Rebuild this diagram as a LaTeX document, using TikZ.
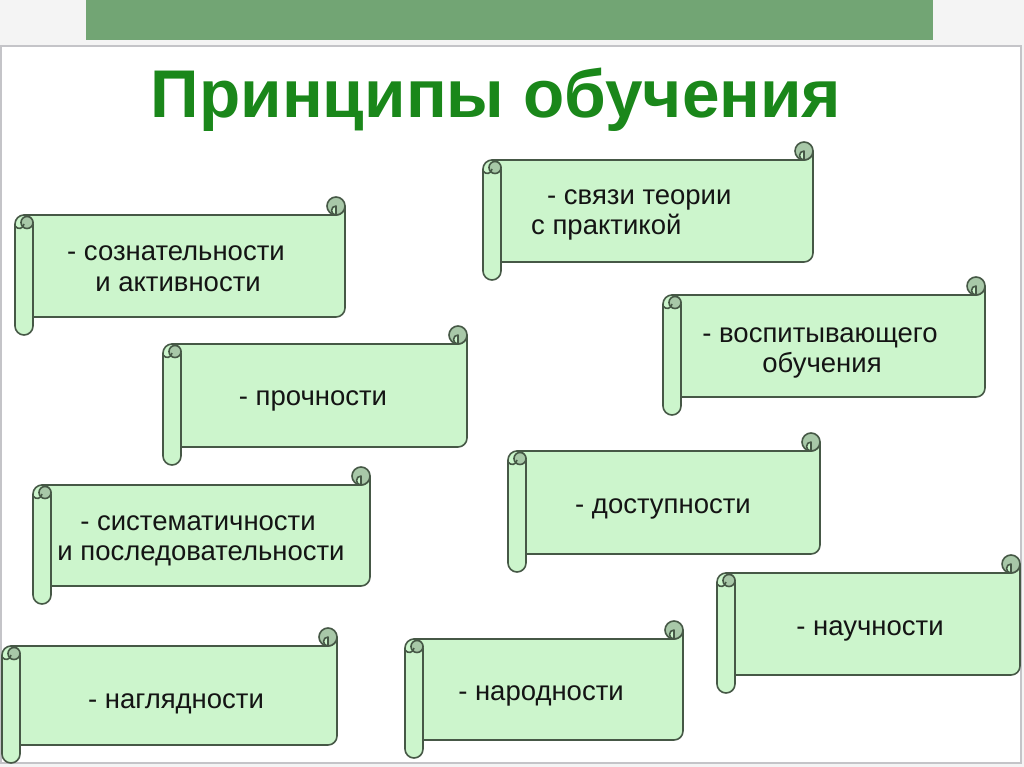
\documentclass[tikz,border=0pt]{standalone}
\usepackage{fontspec}
\setmainfont{Liberation Sans}
\definecolor{bgc}{HTML}{F4F4F4}
\definecolor{barc}{HTML}{72A574}
\definecolor{framec}{HTML}{C4C4C8}
\definecolor{scrollfill}{HTML}{CCF5CC}
\definecolor{curlfill}{HTML}{A8C8A8}
\definecolor{scrollline}{HTML}{465846}
\definecolor{titlec}{HTML}{1A871A}
\definecolor{textc}{HTML}{141414}
\newcommand\scrollbox[4]{%
  \draw[scrollstroke, fill=scrollfill] ({#1+9},{#2+18}) -- ({#3-9},{#2+18})
     arc[start angle=90, end angle=0, radius=9] -- ({#3},{#4-27})
     arc[start angle=0, end angle=90, radius=9] -- ({#1+9},{#4-18}) -- cycle;
  \draw[scrollstroke, fill=curlfill] ({#3-9},{#2+9}) circle[radius=9];
  \draw[scrollstroke, fill=scrollfill] ({#3-9},{#2+18})
     arc[start angle=90, end angle=270, radius=4.5] -- cycle;
  \draw[scrollstroke, fill=scrollfill] (#1,{#2+27})
     arc[start angle=180, end angle=360, radius=9] -- ({#1+18},{#4-9})
     arc[start angle=0, end angle=180, radius=9] -- cycle;
  \draw[scrollstroke, fill=curlfill] ({#1+12},{#2+25.5}) circle[radius=6];
  \draw[scrollstroke] ({#1},{#2+29}) .. controls ({#1+3},{#2+33}) and ({#1+8},{#2+32}) .. ({#1+9},{#2+27});
}
\begin{document}
\begin{tikzpicture}[x=1pt,y=-1pt,
  scrollstroke/.style={draw=scrollline, line width=1.6pt, line join=round},
  lbl/.style={anchor=base, inner sep=0pt, text=textc, font=\fontsize{27.5}{31}\selectfont},
  lblw/.style={lbl, anchor=base west},
  title/.style={anchor=base, inner sep=0pt, text=titlec, font=\fontsize{67.5}{70}\selectfont\bfseries}]
\useasboundingbox (0,0) rectangle (1024,767);
\fill[bgc] (0,0) rectangle (1024,767);
\fill[barc] (86,0) rectangle (933,40);
\draw[framec, line width=2pt, fill=white] (1,46) rectangle (1021,763);

\node[title] (t) at (496,118) {Принципы обучения};

\scrollbox{15}{197}{345}{335}
\node[lbl] (s1a) at (176,260) {- сознательности};
\node[lbl] (s1b) at (178,291) {и активности};

\scrollbox{483}{142}{813}{280}
\node[lblw] (s2a) at (547,205) {- связи теории};
\node[lblw] (s2b) at (531,235) {с практикой};

\scrollbox{163}{326}{467}{465}
\node[lbl] (s3) at (313,405) {- прочности};

\scrollbox{663}{277}{985}{415}
\node[lbl] (s4a) at (820,342) {- воспитывающего};
\node[lbl] (s4b) at (822,372) {обучения};

\scrollbox{33}{467}{370}{604}
\node[lbl] (s5a) at (198,530) {- систематичности};
\node[lbl] (s5b) at (201,560) {и последовательности};

\scrollbox{508}{433}{820}{572}
\node[lbl] (s6) at (663,513) {- доступности};

\scrollbox{717}{555}{1020}{693}
\node[lbl] (s7) at (870,635) {- научности};

\scrollbox{2}{628}{337}{763}
\node[lbl] (s8) at (176,708) {- наглядности};

\scrollbox{405}{621}{683}{758}
\node[lbl] (s9) at (541,700) {- народности};
\end{tikzpicture}
\end{document}
